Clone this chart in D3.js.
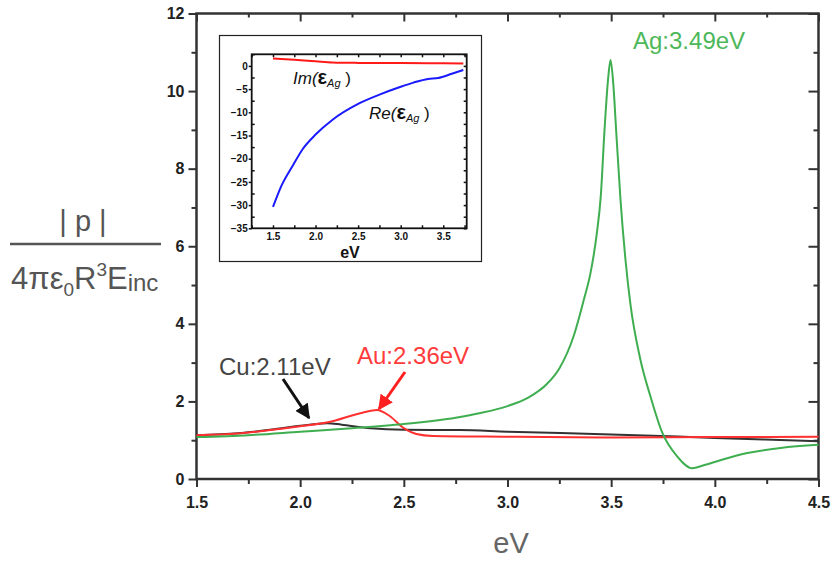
<!DOCTYPE html>
<html>
<head>
<meta charset="utf-8">
<script src="https://d3js.org/d3.v7.min.js"></script>
<style>
  body { margin: 0; background: #fff; }
  svg { display: block; }
</style>
</head>
<body>
<script>
// main chart: |p| vs photon energy, [eV, value]
const agData = [
  [1.5, 1.08], [1.75, 1.13], [2.0, 1.22], [2.25, 1.31], [2.5, 1.42], [2.75, 1.58],
  [2.87, 1.70], [3.0, 1.88], [3.1, 2.1], [3.19, 2.45], [3.25, 2.85], [3.32, 3.7],
  [3.368, 4.62], [3.40, 5.3], [3.43, 6.3], [3.45, 7.3], [3.468, 9.0], [3.485, 10.3],
  [3.497, 10.8], [3.51, 10.2], [3.525, 8.9], [3.545, 7.2], [3.57, 5.6], [3.593, 4.5],
  [3.64, 3.1], [3.69, 2.12], [3.746, 1.2], [3.819, 0.58], [3.89, 0.28], [3.95, 0.36],
  [4.03, 0.49], [4.157, 0.67], [4.318, 0.80], [4.5, 0.88]
];
const auData = [
  [1.5, 1.13], [1.7, 1.17], [1.9, 1.29], [2.0, 1.36], [2.14, 1.47], [2.3, 1.71],
  [2.37, 1.78], [2.43, 1.63], [2.5, 1.31], [2.56, 1.16], [2.64, 1.11], [3.0, 1.09],
  [3.5, 1.07], [4.0, 1.08], [4.5, 1.09]
];
const cuData = [
  [1.5, 1.13], [1.7, 1.18], [1.9, 1.30], [2.0, 1.37], [2.13, 1.44], [2.2, 1.40],
  [2.34, 1.31], [2.5, 1.27], [2.77, 1.26], [3.0, 1.22], [3.5, 1.15], [4.0, 1.06],
  [4.5, 0.97]
];
// inset: dielectric function of silver
const reEps = [
  [1.5, -30.4], [1.6, -25.8], [1.735, -21.4], [1.85, -17.9], [2.0, -14.8], [2.2, -11.6],
  [2.5, -8.2], [2.75, -6.2], [3.0, -4.5], [3.15, -3.6], [3.32, -2.8], [3.44, -2.6],
  [3.6, -1.7], [3.735, -0.9]
];
const imEps = [
  [1.5, 1.6], [1.75, 1.3], [2.0, 1.0], [2.2, 0.75], [2.5, 0.65], [3.0, 0.6], [3.5, 0.55], [3.735, 0.5]
];

const xTicks = [1.5, 2.0, 2.5, 3.0, 3.5, 4.0, 4.5];
const yTicks = [0, 2, 4, 6, 8, 10, 12];
const insetXTicks = [1.5, 2.0, 2.5, 3.0, 3.5];
const insetYTicks = [0, -5, -10, -15, -20, -25, -30, -35];

const peakLabels = [
  { text: "Ag:3.49eV", color: "#4db85a", x: 633, y: 49 },
  { text: "Au:2.36eV", color: "#ff3b3b", x: 357, y: 364 },
  { text: "Cu:2.11eV", color: "#444", x: 219, y: 375 }
];

const W = 837, H = 565;
const svg = d3.select("body").append("svg").attr("width", W).attr("height", H);

const x = d3.scaleLinear().domain([1.5, 4.5]).range([196.5, 818.5]);
const y = d3.scaleLinear().domain([0, 12]).range([479, 13.5]);
const axisColor = "#333";
const tickFont = "'Liberation Sans', Arial, sans-serif";

// minor ticks
const xMinor = d3.range(1.5, 4.51, 0.25).filter(v => Math.abs(v * 2 - Math.round(v * 2)) > 0.01);
const yMinor = d3.range(1, 12, 2);

function styleAxis(g) {
  g.select(".domain").remove();
  g.selectAll("line").attr("stroke", axisColor).attr("stroke-width", 2);
  g.selectAll("text").attr("fill", "#222").attr("font-family", tickFont)
    .attr("font-weight", "bold").attr("font-size", 16);
}

// bottom
svg.append("g").attr("transform", `translate(0,${y(0)})`)
  .call(d3.axisBottom(x).tickValues(xTicks).tickFormat(d3.format(".1f")).tickSize(8).tickPadding(10))
  .call(styleAxis);
svg.append("g").attr("transform", `translate(0,${y(0)})`)
  .call(d3.axisBottom(x).tickValues(xMinor).tickFormat("").tickSize(5))
  .call(styleAxis);
// left
svg.append("g").attr("transform", `translate(${x(1.5)},0)`)
  .call(d3.axisLeft(y).tickValues(yTicks).tickFormat(d3.format("d")).tickSize(8).tickPadding(4))
  .call(styleAxis);
svg.append("g").attr("transform", `translate(${x(1.5)},0)`)
  .call(d3.axisLeft(y).tickValues(yMinor).tickFormat("").tickSize(5))
  .call(styleAxis);
// top (inward)
svg.append("g").attr("transform", `translate(0,${y(12)})`)
  .call(d3.axisBottom(x).tickValues(xTicks).tickFormat("").tickSize(8))
  .call(styleAxis);
svg.append("g").attr("transform", `translate(0,${y(12)})`)
  .call(d3.axisBottom(x).tickValues(xMinor).tickFormat("").tickSize(4))
  .call(styleAxis);
// right (inward)
svg.append("g").attr("transform", `translate(${x(4.5)},0)`)
  .call(d3.axisLeft(y).tickValues(yTicks).tickFormat("").tickSize(10))
  .call(styleAxis);
svg.append("g").attr("transform", `translate(${x(4.5)},0)`)
  .call(d3.axisLeft(y).tickValues(yMinor).tickFormat("").tickSize(5))
  .call(styleAxis);

svg.append("rect")
  .attr("x", x(1.5)).attr("y", y(12))
  .attr("width", x(4.5) - x(1.5)).attr("height", y(0) - y(12))
  .attr("fill", "none").attr("stroke", axisColor).attr("stroke-width", 2.5);

// curves
const line = d3.line().x(d => x(d[0])).y(d => y(d[1])).curve(d3.curveMonotoneX);
[[cuData, "#333"], [auData, "#ff3030"], [agData, "#3fae50"]].forEach(([data, color]) => {
  svg.append("path").datum(data)
    .attr("d", line).attr("fill", "none")
    .attr("stroke", color).attr("stroke-width", 2);
});

// peak labels
svg.selectAll("text.peak").data(peakLabels).enter().append("text")
  .attr("class", "peak")
  .attr("x", d => d.x).attr("y", d => d.y)
  .attr("fill", d => d.color)
  .attr("font-family", tickFont).attr("font-size", 24)
  .text(d => d.text);

// arrows
const defs = svg.append("defs");
[["arrBlack", "#111"], ["arrRed", "#ff2020"]].forEach(([id, c]) => {
  defs.append("marker").attr("id", id)
    .attr("viewBox", "0 0 10 10").attr("refX", 9).attr("refY", 5)
    .attr("markerWidth", 5).attr("markerHeight", 5).attr("orient", "auto")
    .append("path").attr("d", "M0,0 L10,5 L0,10 Z").attr("fill", c);
});
svg.append("line").attr("x1", 283).attr("y1", 379).attr("x2", 309).attr("y2", 418)
  .attr("stroke", "#111").attr("stroke-width", 3).attr("marker-end", "url(#arrBlack)");
svg.append("line").attr("x1", 405).attr("y1", 372).attr("x2", 379).attr("y2", 409)
  .attr("stroke", "#ff2020").attr("stroke-width", 3).attr("marker-end", "url(#arrRed)");

// axis titles
svg.append("text")
  .attr("x", 511).attr("y", 553).attr("text-anchor", "middle")
  .attr("fill", "#666").attr("font-family", tickFont).attr("font-size", 29)
  .text("eV");

const yl = svg.append("g").attr("fill", "#555").attr("font-family", tickFont);
yl.append("text").attr("x", 83).attr("y", 231).attr("text-anchor", "middle")
  .attr("font-size", 29).attr("xml:space", "preserve").text("| p |");
yl.append("line").attr("x1", 10).attr("x2", 161).attr("y1", 244).attr("y2", 244)
  .attr("stroke", "#555").attr("stroke-width", 2.5);
const den = yl.append("text").attr("x", 11).attr("y", 289).attr("font-size", 31);
den.append("tspan").text("4πε");
den.append("tspan").attr("font-size", 19).attr("dy", 7).text("0");
den.append("tspan").attr("dy", -7).text("R");
den.append("tspan").attr("font-size", 19).attr("dy", -13).text("3");
den.append("tspan").attr("dy", 13).text("E");
den.append("tspan").attr("font-size", 24).attr("dy", 2).text("inc");

// ---- inset ----
svg.append("rect").attr("x", 219.5).attr("y", 35.5).attr("width", 262).attr("height", 226)
  .attr("fill", "#fff").attr("stroke", "#222").attr("stroke-width", 1.2);

const ix = d3.scaleLinear().domain([1.25, 3.775]).range([251.7, 466.7]);
const iy = d3.scaleLinear().domain([-35, 2.5]).range([228.3, 54.3]);
const ixMinor = d3.range(1.25, 3.76, 0.25).filter(v => Math.abs(v * 2 - Math.round(v * 2)) > 0.01);
const iyMinor = d3.range(-32.5, 2.6, 5);

function styleInset(g) {
  g.select(".domain").remove();
  g.selectAll("line").attr("stroke", "#111").attr("stroke-width", 1.5);
  g.selectAll("text").attr("fill", "#111").attr("font-family", tickFont)
    .attr("font-weight", "bold").attr("font-size", 10);
}
svg.append("g").attr("transform", `translate(0,${iy(-35)})`)
  .call(d3.axisTop(ix).tickValues(insetXTicks).tickFormat("").tickSize(3))
  .call(styleInset);
svg.append("g").attr("transform", `translate(0,${iy(-35)})`)
  .call(d3.axisBottom(ix).tickValues(insetXTicks).tickFormat(d3.format(".1f")).tickSize(0).tickPadding(5))
  .call(styleInset);
svg.append("g").attr("transform", `translate(0,${iy(-35)})`)
  .call(d3.axisTop(ix).tickValues(ixMinor).tickFormat("").tickSize(3))
  .call(styleInset);
svg.append("g").attr("transform", `translate(${ix(1.25)},0)`)
  .call(d3.axisLeft(iy).tickValues(insetYTicks).tickFormat(d3.format("d")).tickSize(3).tickPadding(1))
  .call(styleInset);
svg.append("g").attr("transform", `translate(${ix(1.25)},0)`)
  .call(d3.axisRight(iy).tickValues(iyMinor).tickFormat("").tickSize(3))
  .call(styleInset);
svg.append("g").attr("transform", `translate(${ix(3.775)},0)`)
  .call(d3.axisLeft(iy).tickValues(insetYTicks.concat(iyMinor)).tickFormat("").tickSize(3))
  .call(styleInset);
svg.append("g").attr("transform", `translate(0,${iy(2.5)})`)
  .call(d3.axisBottom(ix).tickValues(insetXTicks.concat(ixMinor)).tickFormat("").tickSize(3))
  .call(styleInset);
svg.append("rect")
  .attr("x", ix(1.25)).attr("y", iy(2.5))
  .attr("width", ix(3.775) - ix(1.25)).attr("height", iy(-35) - iy(2.5))
  .attr("fill", "none").attr("stroke", "#111").attr("stroke-width", 1.8);

const iline = d3.line().x(d => ix(d[0])).y(d => iy(d[1])).curve(d3.curveMonotoneX);
svg.append("path").datum(reEps).attr("d", iline).attr("fill", "none")
  .attr("stroke", "#1a1aff").attr("stroke-width", 2);
svg.append("path").datum(imEps).attr("d", iline).attr("fill", "none")
  .attr("stroke", "#ff1a1a").attr("stroke-width", 2);

svg.append("text").attr("x", 350).attr("y", 258).attr("text-anchor", "middle")
  .attr("fill", "#111").attr("font-family", tickFont).attr("font-weight", "bold")
  .attr("font-size", 16).text("eV");

function epsLabel(prefix, px, py) {
  const t = svg.append("text").attr("x", px).attr("y", py)
    .attr("fill", "#111").attr("font-family", tickFont).attr("font-style", "italic")
    .attr("font-size", 17);
  t.append("tspan").text(prefix + "(");
  t.append("tspan").attr("font-style", "normal").attr("font-weight", "bold").attr("font-size", 20).text("ε");
  t.append("tspan").attr("font-size", 11).attr("dy", 3).text("Ag");
  t.append("tspan").attr("dy", -3).attr("font-style", "normal").text(" )");
}
epsLabel("Im", 293, 84);
epsLabel("Re", 369, 119);
</script>
</body>
</html>
